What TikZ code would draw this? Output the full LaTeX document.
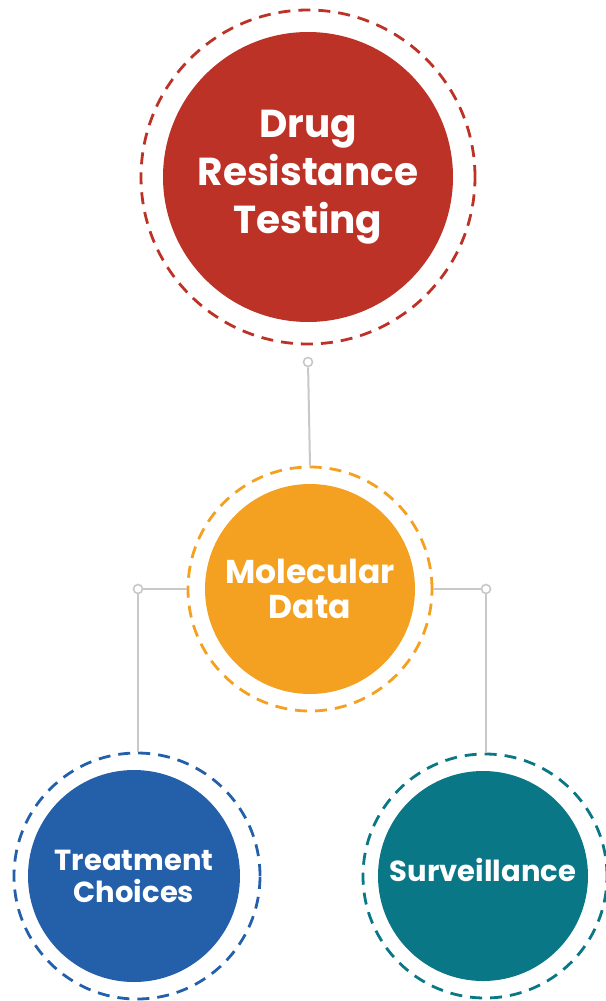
\documentclass[tikz,border=0pt]{standalone}
\usepackage{fontspec}
\setmainfont{Poppins}
\definecolor{drugred}{HTML}{BC3226}
\definecolor{molorange}{HTML}{F4A020}
\definecolor{treatblue}{HTML}{2460AA}
\definecolor{survteal}{HTML}{0A7787}
\definecolor{linkgray}{HTML}{C8C8C8}
\begin{document}
\begin{tikzpicture}[x=1pt,y=-1pt,
    hub/.style={circle,fill=#1,text=white,inner sep=0pt,align=center},
    ring/.style={circle,draw=#1,line width=2.8pt,dash pattern=on 12pt off 8pt,inner sep=0pt},
    link/.style={draw=linkgray,line width=2pt},
    knob/.style={circle,draw=linkgray,fill=white,line width=1.6pt,minimum size=9pt,inner sep=0pt}]
    \useasboundingbox (0,0) rectangle (605,1001);
    % top
    \node[ring=drugred,minimum size=334pt] (ring1) at (308,177) {};
    \node[hub=drugred,minimum size=290pt,font=\bfseries\fontsize{39}{48}\selectfont] (drug) at (308,177) {Drug\\Resistance\\Testing};
    % middle
    \node[ring=molorange,minimum size=244pt] (ring2) at (310,589) {};
    \node[hub=molorange,minimum size=210pt,font=\bfseries\fontsize{33}{35}\selectfont] (mol) at (310,589) {Molecular\\Data};
    % bottom
    \node[ring=treatblue,minimum size=246pt] (ring3) at (137,876) {};
    \node[hub=treatblue,minimum size=212pt,font=\bfseries\fontsize{29}{32}\selectfont] (treat) at (134,876) {Treatment\\Choices};
    \node[ring=survteal,minimum size=244pt] (ring4) at (485,876) {};
    \node[hub=survteal,minimum size=210pt,font=\bfseries\fontsize{29}{32}\selectfont] (surv) at (483,876) {\raisebox{12pt}{Surveillance}};
    % connectors
    \node[knob] (k1) at (308,362) {};
    \node[knob] (k2) at (138,589) {};
    \node[knob] (k3) at (486,589) {};
    \draw[link] (k1) -- (ring2.north);
    \draw[link] (k2) -- (ring2.west);
    \draw[link] (k2) -- (k2 |- ring3.north);
    \draw[link] (k3) -- (ring2.east);
    \draw[link] (k3) -- (k3 |- ring4.north);
\end{tikzpicture}
\end{document}
